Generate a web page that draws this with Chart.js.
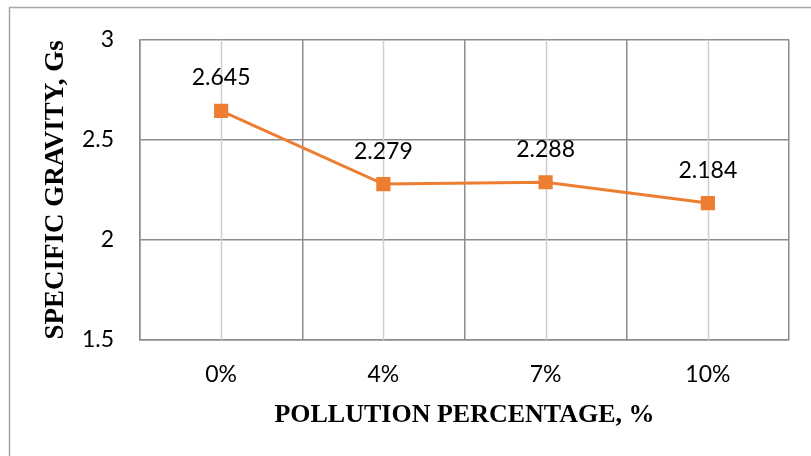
<!DOCTYPE html>
<html><head><meta charset="utf-8">
<script src="https://cdn.jsdelivr.net/npm/chart.js@4.4.0/dist/chart.umd.min.js"></script>
<style>html,body{margin:0;padding:0;background:#fff;}#wrap{width:811px;height:456px;position:relative;}</style>
</head><body><div id="wrap"><canvas id="c"></canvas></div>
<script>
const categories = ['0%', '4%', '7%', '10%'];
const gsValues = [2.645, 2.279, 2.288, 2.184];
const yMin = 1.5, yMax = 3, yStep = 0.5;
const xTitle = 'POLLUTION PERCENTAGE, %';
const yTitle = 'SPECIFIC GRAVITY, Gs';

const gridDark = '#8c8c8c';
const gridLight = '#cfcfcf';

const outerBorder = {
  id: 'outerBorder',
  afterDraw(chart) {
    const ctx = chart.ctx;
    ctx.save();
    ctx.strokeStyle = '#a6a6a6';
    ctx.lineWidth = 1.5;
    ctx.strokeRect(9.5, 7.5, 1000, 700);
    ctx.restore();
  }
};

const centerLines = {
  id: 'centerLines',
  beforeDatasetsDraw(chart) {
    const ctx = chart.ctx, xs = chart.scales.x, a = chart.chartArea;
    ctx.save();
    ctx.strokeStyle = gridLight;
    ctx.lineWidth = 1.5;
    categories.forEach((c, i) => {
      const x = Math.round(xs.getPixelForValue(i)) + 0.5;
      ctx.beginPath(); ctx.moveTo(x, a.top); ctx.lineTo(x, a.bottom); ctx.stroke();
    });
    ctx.restore();
  }
};

const pointLabels = {
  id: 'pointLabels',
  afterDatasetsDraw(chart) {
    const ctx = chart.ctx;
    const meta = chart.getDatasetMeta(0);
    ctx.save();
    ctx.font = '23px Lato';
    ctx.fillStyle = '#000';
    ctx.textAlign = 'center';
    ctx.textBaseline = 'middle';
    meta.data.forEach((p, i) => {
      ctx.fillText(gsValues[i].toFixed(3), p.x, p.y - 33);
    });
    ctx.restore();
  }
};

new Chart(document.getElementById('c'), {
  type: 'line',
  data: {
    labels: categories,
    datasets: [{
      data: gsValues,
      borderColor: '#ED7D31',
      backgroundColor: '#ED7D31',
      borderWidth: 3,
      pointStyle: 'rect',
      pointRadius: 10,
      pointBorderWidth: 0,
      pointBackgroundColor: '#ED7D31',
      tension: 0
    }]
  },
  options: {
    responsive: true,
    maintainAspectRatio: false,
    animation: false,
    layout: { padding: { top: 37, right: 22, left: 0, bottom: 0 } },
    plugins: { legend: { display: false }, tooltip: { enabled: false } },
    scales: {
      x: {
        offset: true,
        grid: { offset: true, color: gridDark, lineWidth: 1.5, drawTicks: false },
        border: { color: gridDark, width: 1.5 },
        ticks: { color: '#000', font: { family: 'Lato', size: 23 }, padding: 21 },
        title: { display: true, text: xTitle, color: '#000',
          font: { family: 'Liberation Serif', size: 26, weight: 'bold' }, padding: { top: 0, bottom: 25 } },
        afterFit(s) { s.height = 116; }
      },
      y: {
        min: yMin, max: yMax,
        grid: { color: gridDark, lineWidth: 1.5, drawTicks: false },
        border: { color: gridDark, width: 1.5 },
        ticks: { stepSize: yStep, color: '#000', font: { family: 'Lato', size: 23 }, padding: 26,
          callback: (v) => String(Number(v)) },
        title: { display: true, text: yTitle, color: '#000',
          font: { family: 'Liberation Serif', size: 27, weight: 'bold' }, padding: { top: 40, bottom: 0 } },
        afterFit(s) { s.width = 140; }
      }
    }
  },
  plugins: [outerBorder, centerLines, pointLabels]
});
</script>
</body></html>
